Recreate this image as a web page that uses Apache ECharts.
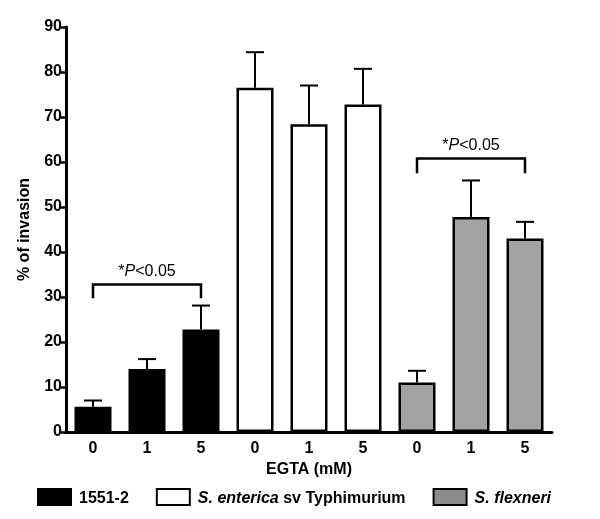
<!DOCTYPE html>
<html><head><meta charset="utf-8">
<script src="https://cdn.jsdelivr.net/npm/echarts@6/dist/echarts.min.js"></script>
<style>html,body{margin:0;padding:0;background:#fff}#c{width:600px;height:519px}</style>
</head><body><div id="c"></div>
<script>
var categories = ['0','1','5','0','1','5','0','1','5'];
var seriesNames = ['1551-2','S. enterica sv Typhimurium','S. flexneri'];
var strain1551 = [5.6, 14.0, 22.8];
var strainEnterica = [76.5, 68.4, 72.8];
var strainFlexneri = [11.0, 47.8, 43.0];
var err1551 = [7.0, 16.2, 28.1];
var errEnterica = [84.4, 77.0, 80.7];
var errFlexneri = [13.6, 55.9, 46.7];
var yTicks = [0,10,20,30,40,50,60,70,80,90];
// brackets: [startIdx, endIdx, topValue, legValue]
var brackets = [[0, 2, 32.8, 29.7], [6, 8, 60.8, 57.5]];

function pad(arr, offset){
  var out = [];
  for (var i=0;i<9;i++){ out.push(i>=offset && i<offset+3 ? arr[i-offset] : '-'); }
  return out;
}
var errData = [];
[[strain1551,err1551,0],[strainEnterica,errEnterica,3],[strainFlexneri,errFlexneri,6]].forEach(function(g){
  for (var i=0;i<3;i++) errData.push([g[2]+i, g[0][i], g[1][i]]);
});

var font = '"Liberation Sans", Arial, sans-serif';
var chart = echarts.init(document.getElementById('c'), null, {renderer:'canvas'});
var barBase = {type:'bar', barWidth:37, barGap:'-100%', animation:false};
chart.setOption({
  animation:false,
  grid:{left:66, right:48, top:27, bottom:87},
  legend:{
    left:32, top:483, itemGap:27, itemWidth:33, itemHeight:16, icon:'rect',
    data:[
      {name:seriesNames[0]},
      {name:seriesNames[1]},
      {name:seriesNames[2], itemStyle:{color:'#8c8c8c'}}
    ],
    textStyle:{fontFamily:font, fontWeight:'bold', fontSize:16, color:'#000', padding:[3,0,0,3],
      rich:{i:{fontFamily:font, fontWeight:'bold', fontStyle:'italic', fontSize:16, color:'#000'},
            n:{fontFamily:font, fontWeight:'bold', fontSize:16, color:'#000'}}},
    formatter:function(n){
      if(n==='S. enterica sv Typhimurium') return '{i|S. enterica}{n| sv Typhimurium}';
      if(n==='S. flexneri') return '{i|S. flexneri}';
      return n;
    }
  },
  xAxis:{
    type:'category', data:categories,
    name:'EGTA (mM)', nameLocation:'middle', nameGap:29,
    nameTextStyle:{fontFamily:font, fontWeight:'bold', fontSize:16, color:'#000'},
    axisLine:{lineStyle:{color:'#000', width:3}},
    axisTick:{show:false},
    axisLabel:{fontFamily:font, fontWeight:'bold', fontSize:16, color:'#000', margin:9}
  },
  yAxis:{
    type:'value', min:0, max:90, interval:10,
    name:'% of invasion', nameLocation:'middle', nameGap:33,
    nameTextStyle:{fontFamily:font, fontWeight:'bold', fontSize:16, color:'#000'},
    axisLine:{show:true, lineStyle:{color:'#000', width:3}},
    axisTick:{show:true, length:5, lineStyle:{color:'#000', width:2.5}},
    splitLine:{show:false},
    axisLabel:{fontFamily:font, fontWeight:'bold', fontSize:16, color:'#000', margin:4,
      formatter:function(v){ return yTicks.indexOf(v)>=0 ? String(v) : ''; }}
  },
  series:[
    Object.assign({}, barBase, {name:seriesNames[0], data:pad(strain1551,0),
      itemStyle:{color:'#000', borderColor:'#000', borderWidth:2.5}}),
    Object.assign({}, barBase, {name:seriesNames[1], data:pad(strainEnterica,3),
      itemStyle:{color:'#fff', borderColor:'#000', borderWidth:2.5}}),
    Object.assign({}, barBase, {name:seriesNames[2], data:pad(strainFlexneri,6),
      itemStyle:{color:'#a3a3a6', borderColor:'#000', borderWidth:2.5}}),
    {type:'custom', name:'err', data:errData, encode:{x:0, y:[1,2]}, z:1,
      renderItem:function(params, api){
        var p0 = api.coord([api.value(0), api.value(1)]);
        var p1 = api.coord([api.value(0), api.value(2)]);
        var hw = 9;
        return {type:'group', children:[
          {type:'line', shape:{x1:p0[0], y1:p0[1], x2:p1[0], y2:p1[1]}, style:{stroke:'#000', lineWidth:2}},
          {type:'line', shape:{x1:p1[0]-hw, y1:p1[1], x2:p1[0]+hw, y2:p1[1]}, style:{stroke:'#000', lineWidth:2}}
        ]};
      }},
    {type:'custom', name:'brackets', data:brackets, encode:{x:[0,1], y:[2,3]},
      renderItem:function(params, api){
        var a = api.coord([api.value(0), api.value(2)]);
        var b = api.coord([api.value(1), api.value(2)]);
        var la = api.coord([api.value(0), api.value(3)]);
        var mx = (a[0]+b[0])/2;
        return {type:'group', children:[
          {type:'polyline', shape:{points:[[a[0],la[1]],[a[0],a[1]],[b[0],b[1]],[b[0],la[1]]]},
            style:{stroke:'#000', lineWidth:2.5, fill:null}},
          {type:'text', x:mx, y:a[1]-13, style:{
            text:'{s|*}{p|P}{s|<0.05}', align:'center', verticalAlign:'middle',
            rich:{s:{fontFamily:font, fontSize:16, fill:'#000'},
                  p:{fontFamily:font, fontSize:16, fontStyle:'italic', fill:'#000'}}}}
        ]};
      }}
  ]
});
</script></body></html>
